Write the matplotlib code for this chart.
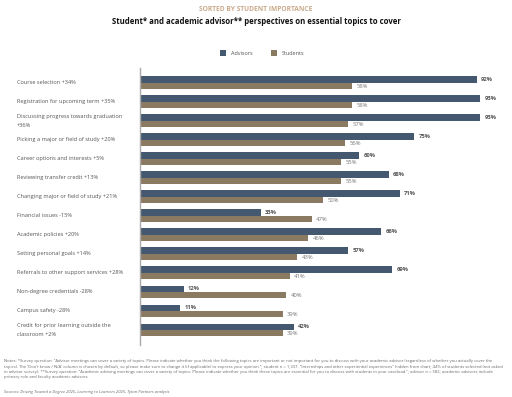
import matplotlib
matplotlib.use('Agg')
import matplotlib.pyplot as plt
import matplotlib.transforms as mtransforms
import numpy as np

plt.rcParams['font.family'] = ['Open Sans', 'DejaVu Sans']

# Data
topics = [
    'Course selection +34%',
    'Registration for upcoming term +35%',
    'Discussing progress towards graduation\n+36%',
    'Picking a major or field of study +20%',
    'Career options and interests +5%',
    'Reviewing transfer credit +13%',
    'Changing major or field of study +21%',
    'Financial issues -15%',
    'Academic policies +20%',
    'Setting personal goals +14%',
    'Referrals to other support services +28%',
    'Non-degree credentials -28%',
    'Campus safety -28%',
    'Credit for prior learning outside the\nclassroom +2%',
]
advisors = [92, 93, 93, 75, 60, 68, 71, 33, 66, 57, 69, 12, 11, 42]
students = [58, 58, 57, 56, 55, 55, 50, 47, 46, 43, 41, 40, 39, 39]

notes = ('Notes: *Survey question: "Advisor meetings can cover a variety of topics. Please indicate whether you think the following topics are important or not important for you to discuss with your academic advisor (regardless of whether you actually cover the\n'
         'topics). The \'Don\'t know / N/A\' column is chosen by default, so please make sure to change it (if applicable) to express your opinion."; student n = 1,337. "Internships and other experiential experiences" hidden from chart; 44% of students selected (not asked\n'
         'in advisor survey). **Survey question: "Academic advising meetings can cover a variety of topics. Please indicate whether you think these topics are essential for you to discuss with students in your caseload."; advisor n = 582; academic advisors include\n'
         'primary role and faculty academic advisors')
sources = 'Sources: Driving Toward a Degree 2025, Learning to Learners 2025, Tyton Partners analysis'

adv_color = '#44596f'
stu_color = '#8b7a62'

fig = plt.figure(figsize=(5.12, 3.97), dpi=100)
ax = fig.add_axes([0.273, 0.131, 0.715, 0.698])

y = np.arange(len(topics))
h = 0.34
ax.barh(y - h / 2, advisors, height=h, color=adv_color, label='Advisors')
ax.barh(y + h / 2, students, height=h, color=stu_color, label='Students')

for yi, a, s in zip(y, advisors, students):
    ax.text(a + 1.2, yi - h / 2, f'{a}%', va='center', ha='left', fontsize=4.2,
            color='#555555', fontweight='bold')
    ax.text(s + 1.2, yi + h / 2, f'{s}%', va='center', ha='left', fontsize=4.2,
            color='#777777')

ax.set_xlim(0, 100)
ax.set_ylim(len(topics) - 1 + 0.79, -0.79)
ax.set_xticks([])
ax.set_yticks([])
for side in ['top', 'right', 'bottom']:
    ax.spines[side].set_visible(False)
ax.spines['left'].set_color('#aaaaaa')
ax.spines['left'].set_linewidth(1.0)

# Topic labels, left aligned in figure coordinates
trans = mtransforms.blended_transform_factory(fig.transFigure, ax.transData)
for yi, t in zip(y, topics):
    ax.text(0.033, yi, t, transform=trans, va='center', ha='left',
            fontsize=4.1, color='#555555', linespacing=1.9)

# Titles
fig.text(0.5, 0.977, 'SORTED BY STUDENT IMPORTANCE', ha='center', va='center',
         fontsize=4.8, color='#c9a98b', fontweight='bold')
fig.text(0.5, 0.946, 'Student* and academic advisor** perspectives on essential topics to cover',
         ha='center', va='center', fontsize=5.6, color='#111111', fontweight='bold')

# Legend
leg = fig.legend(loc='center', bbox_to_anchor=(0.512, 0.866), ncol=2, frameon=False,
                 fontsize=4.0, handlelength=1.1, handleheight=1.1, columnspacing=3.2,
                 handletextpad=0.9)
for txt in leg.get_texts():
    txt.set_color('#555555')

# Footnotes
fig.text(0.008, 0.095, notes, ha='left', va='top', fontsize=3.0, color='#666666',
         linespacing=1.45)
fig.text(0.008, 0.013, sources, ha='left', va='center', fontsize=3.0, color='#666666',
         style='italic')

fig.savefig('out.png', dpi=100)
